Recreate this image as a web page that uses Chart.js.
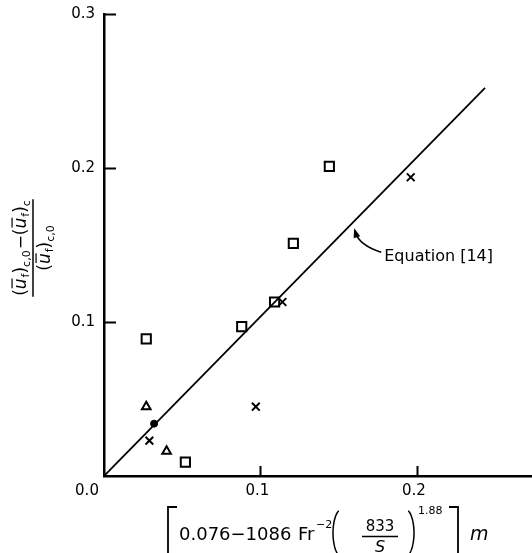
<!DOCTYPE html>
<html lang="en">
<head>
    <meta charset="UTF-8">
    <title>Equation [14] comparison</title>
    <script src="https://cdn.jsdelivr.net/npm/chart.js"></script>
    <style>
        body {
            margin: 0;
            background: #fff;
        }
        #chart-container {
            width: 532px;
            height: 553px;
        }
    </style>
</head>
<body>
    <div id="chart-container">
        <canvas id="eqChart" width="532" height="553"></canvas>
    </div>

    <script>
        // values
        const squareX = [0.027, 0.052, 0.088, 0.109, 0.121, 0.144];
        const squareY = [0.089, 0.009, 0.097, 0.113, 0.151, 0.201];
        const crossX = [0.029, 0.097, 0.114, 0.196];
        const crossY = [0.023, 0.045, 0.113, 0.194];
        const triangleX = [0.027, 0.040];
        const triangleY = [0.045, 0.016];
        const dotX = [0.032];
        const dotY = [0.034];
        // Equation [14] line
        const lineX = [0, 0.2435];
        const lineY = [0, 0.252];
        const xTicks = [0.1, 0.2];
        const yTicks = [0.1, 0.2, 0.3];
        const xTickLabels = ['0.1', '0.2'];
        const yTickLabels = ['0.1', '0.2', '0.3'];

        const FONT = '"DejaVu Sans", sans-serif';

        function pts(xs, ys) {
            return xs.map((x, i) => ({ x: x, y: ys[i] }));
        }

        // draw a run of text pieces (subscripts, overbars) along a baseline
        function runWidth(ctx, runs) {
            let w = 0;
            runs.forEach(r => {
                ctx.font = (r.it ? 'italic ' : '') + r.s + 'px ' + FONT;
                w += ctx.measureText(r.t).width + (r.gap || 0);
            });
            return w;
        }
        function drawRuns(ctx, runs, x, y) {
            runs.forEach(r => {
                ctx.font = (r.it ? 'italic ' : '') + r.s + 'px ' + FONT;
                const w = ctx.measureText(r.t).width;
                ctx.fillText(r.t, x, y + (r.dy || 0));
                if (r.bar) {
                    ctx.beginPath();
                    ctx.moveTo(x + 1, y - r.s * 0.82);
                    ctx.lineTo(x + w, y - r.s * 0.82);
                    ctx.stroke();
                }
                x += w + (r.gap || 0);
            });
        }

        const numRuns = [
            { t: '(', s: 17 }, { t: 'u', s: 17, it: true, bar: true, gap: 1 }, { t: 'f', s: 11, dy: 3 },
            { t: ')', s: 17 }, { t: 'c,0', s: 11, dy: 4, gap: 1 }, { t: '−', s: 17 },
            { t: '(', s: 17 }, { t: 'u', s: 17, it: true, bar: true, gap: 1 }, { t: 'f', s: 11, dy: 3 },
            { t: ')', s: 17 }, { t: 'c', s: 11, dy: 4 }
        ];
        const denRuns = [
            { t: '(', s: 17 }, { t: 'u', s: 17, it: true, bar: true, gap: 1 }, { t: 'f', s: 11, dy: 3 },
            { t: ')', s: 17 }, { t: 'c,0', s: 11, dy: 4 }
        ];

        const decorations = {
            id: 'decorations',
            afterDraw(chart) {
                const ctx = chart.ctx;
                const xs = chart.scales.x, ys = chart.scales.y;
                const area = chart.chartArea;
                ctx.save();
                ctx.strokeStyle = '#000';
                ctx.fillStyle = '#000';

                // inward tick marks and tick labels
                ctx.lineWidth = 2;
                ctx.beginPath();
                yTicks.forEach(v => {
                    const py = Math.round(ys.getPixelForValue(v)) + 0.5;
                    ctx.moveTo(area.left, py);
                    ctx.lineTo(area.left + 12, py);
                });
                xTicks.forEach(v => {
                    const px = Math.round(xs.getPixelForValue(v)) + 0.5;
                    ctx.moveTo(px, area.bottom);
                    ctx.lineTo(px, area.bottom - 10);
                });
                ctx.stroke();

                ctx.font = '15px ' + FONT;
                ctx.textBaseline = 'middle';
                ctx.textAlign = 'right';
                yTicks.forEach((v, i) => {
                    ctx.fillText(yTickLabels[i], area.left - 9, ys.getPixelForValue(v));
                });
                ctx.textAlign = 'center';
                xTicks.forEach((v, i) => {
                    ctx.fillText(xTickLabels[i], xs.getPixelForValue(v) - 3, area.bottom + 15);
                });
                // shared origin label
                ctx.fillText('0.0', area.left - 17, area.bottom + 15);

                // Equation [14] label with curved arrow
                const ax = xs.getPixelForValue(0.158);
                const ay = ys.getPixelForValue(0.158 * lineY[1] / lineX[1]);
                ctx.textAlign = 'left';
                ctx.textBaseline = 'alphabetic';
                ctx.font = '16px ' + FONT;
                ctx.fillText('Equation [14]', ax + 33, ay + 37);
                ctx.lineWidth = 1.6;
                const sx = ax + 30, sy = ay + 28;
                const cx = ax + 8, cy = ay + 21;
                const tx = ax + 3, ty = ay + 4;
                ctx.beginPath();
                ctx.moveTo(sx, sy);
                ctx.quadraticCurveTo(cx, cy, tx + 1, ty + 4);
                ctx.stroke();
                const ang = Math.atan2(ty - cy, tx - cx);
                ctx.beginPath();
                ctx.moveTo(tx, ty);
                ctx.lineTo(tx - 10 * Math.cos(ang - 0.35), ty - 10 * Math.sin(ang - 0.35));
                ctx.lineTo(tx - 10 * Math.cos(ang + 0.35), ty - 10 * Math.sin(ang + 0.35));
                ctx.closePath();
                ctx.fill();

                // y axis title: rotated fraction
                ctx.save();
                ctx.translate(33, 248);
                ctx.rotate(-Math.PI / 2);
                ctx.lineWidth = 1.2;
                ctx.textAlign = 'left';
                const nw = runWidth(ctx, numRuns);
                const dw = runWidth(ctx, denRuns);
                drawRuns(ctx, numRuns, -nw / 2, -7);
                drawRuns(ctx, denRuns, -dw / 2, 17);
                ctx.lineWidth = 1.5;
                ctx.beginPath();
                ctx.moveTo(-nw / 2 - 1, 0);
                ctx.lineTo(nw / 2 + 1, 0);
                ctx.stroke();
                ctx.restore();

                // x axis title
                ctx.lineWidth = 1.8;
                ctx.textAlign = 'left';
                ctx.beginPath();
                ctx.moveTo(177, 507); ctx.lineTo(168, 507); ctx.lineTo(168, 560);
                ctx.moveTo(449, 507); ctx.lineTo(458, 507); ctx.lineTo(458, 560);
                ctx.stroke();
                ctx.font = '18px ' + FONT;
                ctx.fillText('0.076−1086', 179, 540);
                ctx.fillText('Fr', 298, 540);
                ctx.font = '11px ' + FONT;
                ctx.fillText('−2', 316, 528);
                ctx.lineWidth = 1.5;
                ctx.beginPath();
                ctx.ellipse(342, 533, 9, 24, 0, Math.PI * 0.62, Math.PI * 1.38);
                ctx.stroke();
                ctx.beginPath();
                ctx.ellipse(405, 533, 9, 24, 0, -Math.PI * 0.38, Math.PI * 0.38);
                ctx.stroke();
                ctx.font = '15px ' + FONT;
                ctx.textAlign = 'center';
                ctx.fillText('833', 380, 531);
                ctx.font = 'italic 16px ' + FONT;
                ctx.fillText('S', 380, 552);
                ctx.lineWidth = 1.4;
                ctx.beginPath();
                ctx.moveTo(362, 536.5); ctx.lineTo(398, 536.5);
                ctx.stroke();
                ctx.textAlign = 'left';
                ctx.font = '11px ' + FONT;
                ctx.fillText('1.88', 418, 514);
                ctx.font = 'italic 19px ' + FONT;
                ctx.fillText('m', 470, 540);
                ctx.restore();
            }
        };

        const markerBase = {
            borderColor: '#000',
            backgroundColor: 'rgba(0,0,0,0)',
            borderWidth: 2,
            showLine: false
        };

        const ctx = document.getElementById('eqChart').getContext('2d');
        new Chart(ctx, {
            type: 'scatter',
            data: {
                datasets: [
                    {
                        type: 'line',
                        label: 'Equation [14]',
                        data: pts(lineX, lineY),
                        borderColor: '#000',
                        borderWidth: 1.8,
                        pointRadius: 0,
                        fill: false
                    },
                    Object.assign({ label: 'squares', data: pts(squareX, squareY), pointStyle: 'rect', pointRadius: 6.5 }, markerBase),
                    Object.assign({ label: 'crosses', data: pts(crossX, crossY), pointStyle: 'crossRot', pointRadius: 5.5 }, markerBase),
                    Object.assign({ label: 'triangles', data: pts(triangleX, triangleY), pointStyle: 'triangle', pointRadius: 5 }, markerBase),
                    {
                        label: 'dot',
                        data: pts(dotX, dotY),
                        pointStyle: 'circle',
                        pointRadius: 3.5,
                        borderColor: '#000',
                        backgroundColor: '#000',
                        borderWidth: 1
                    }
                ]
            },
            options: {
                responsive: false,
                animation: false,
                layout: { autoPadding: false, padding: { top: 14, right: 0, left: 0, bottom: 0 } },
                plugins: {
                    legend: { display: false },
                    tooltip: { enabled: false }
                },
                scales: {
                    x: {
                        type: 'linear',
                        min: 0,
                        max: 0.2735,
                        afterFit(s) { s.height = 77; },
                        grid: { display: false, drawTicks: false },
                        border: { display: true, color: '#000', width: 2.5 },
                        ticks: { display: false, stepSize: 0.1 }
                    },
                    y: {
                        type: 'linear',
                        min: 0,
                        max: 0.3,
                        afterFit(s) { s.width = 104; },
                        grid: { display: false, drawTicks: false },
                        border: { display: true, color: '#000', width: 2.5 },
                        ticks: { display: false, stepSize: 0.1 }
                    }
                }
            },
            plugins: [decorations]
        });
    </script>
</body>
</html>
